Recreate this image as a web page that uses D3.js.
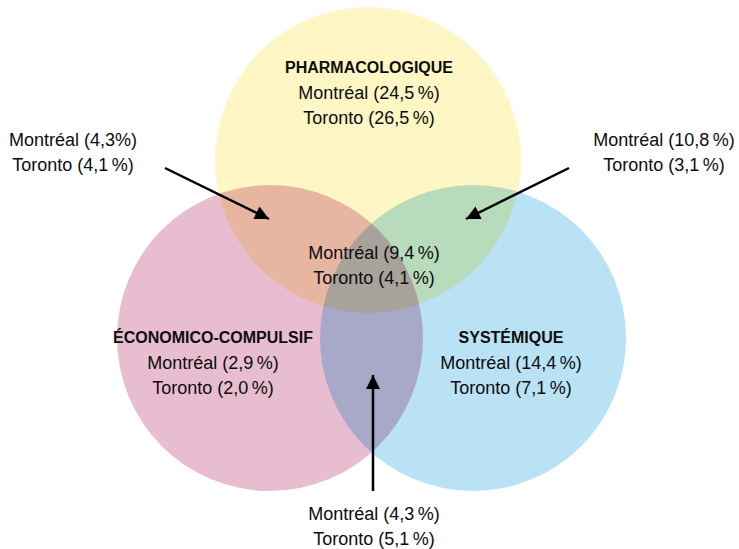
<!DOCTYPE html>
<html>
<head>
<meta charset="utf-8">
<script src="https://cdn.jsdelivr.net/npm/d3@7"></script>
<style>
  body { margin: 0; background: #fff; }
  svg { display: block; font-family: "Liberation Sans", Arial, sans-serif; }
  .set { mix-blend-mode: multiply; }
</style>
</head>
<body>
<div id="chart"></div>
<script>
// Sets (circles) and their own-region values
var sets = ["PHARMACOLOGIQUE", "ÉCONOMICO-COMPULSIF", "SYSTÉMIQUE"];
var setColors = ["#fef6c4", "#e8bdd0", "#b9e3f5"];

// Regions: P only, E only, S only, P∩E, P∩S, E∩S, P∩E∩S
var regions = ["P", "E", "S", "PE", "PS", "ES", "PES"];
var montreal = ["24,5\u2009%", "2,9\u2009%", "14,4\u2009%", "4,3%", "10,8\u2009%", "4,3\u2009%", "9,4\u2009%"];
var toronto = ["26,5\u2009%", "2,0\u2009%", "7,1\u2009%", "4,1\u2009%", "3,1\u2009%", "5,1\u2009%", "4,1\u2009%"];

var width = 739, height = 549;

// Circle layout (pixel units)
var r = 153;
var centers = [[368, 160], [270, 338], [473, 338]];

// Label anchors per region: where the text block goes (x, first baseline)
var labelPos = {
  P: [369, 73], E: [213, 343], S: [511, 343],
  PE: [73, 146], PS: [664, 146], ES: [374, 520], PES: [374, 259]
};
// Arrows for the small regions: [from, to]
var arrows = {
  PE: [[165, 168], [269, 219]],
  PS: [[569, 168], [466, 219]],
  ES: [[373, 491], [373, 375]]
};

var svg = d3.select("#chart").append("svg")
  .attr("width", width)
  .attr("height", height);

svg.append("defs").append("marker")
  .attr("id", "head")
  .attr("viewBox", "0 0 10 10")
  .attr("refX", 10)
  .attr("refY", 5)
  .attr("markerUnits", "userSpaceOnUse")
  .attr("markerWidth", 16)
  .attr("markerHeight", 14)
  .attr("orient", "auto")
  .append("path")
  .attr("d", "M0,0 L10,5 L0,10 Z")
  .attr("fill", "#000");

var g = svg.append("g").style("isolation", "isolate");
g.append("rect").attr("width", width).attr("height", height).attr("fill", "#fff");

g.selectAll("circle.set")
  .data(sets)
  .enter().append("circle")
  .attr("class", "set")
  .attr("cx", function(d, i) { return centers[i][0]; })
  .attr("cy", function(d, i) { return centers[i][1]; })
  .attr("r", r)
  .attr("fill", function(d, i) { return setColors[i]; });

// Arrows
svg.selectAll("line.arrow")
  .data(Object.keys(arrows))
  .enter().append("line")
  .attr("class", "arrow")
  .attr("x1", function(k) { return arrows[k][0][0]; })
  .attr("y1", function(k) { return arrows[k][0][1]; })
  .attr("x2", function(k) { return arrows[k][1][0]; })
  .attr("y2", function(k) { return arrows[k][1][1]; })
  .attr("stroke", "#000")
  .attr("stroke-width", 2.5)
  .attr("marker-end", "url(#head)");

// Text blocks
var lineH = 25;
regions.forEach(function(key, i) {
  var pos = labelPos[key];
  var t = svg.append("text")
    .attr("text-anchor", "middle")
    .attr("fill", "#0d0d0d");
  var y = pos[1];
  if (key.length === 1) {
    t.append("tspan")
      .attr("x", pos[0]).attr("y", y)
      .attr("font-weight", "bold")
      .attr("font-size", 16)
      .text(sets["PES".indexOf(key)]);
    y += 26;
  }
  t.append("tspan")
    .attr("x", pos[0]).attr("y", y)
    .attr("font-size", 18)
    .text("Montréal (" + montreal[i] + ")");
  t.append("tspan")
    .attr("x", pos[0]).attr("y", y + lineH)
    .attr("font-size", 18)
    .text("Toronto (" + toronto[i] + ")");
});
</script>
</body>
</html>
